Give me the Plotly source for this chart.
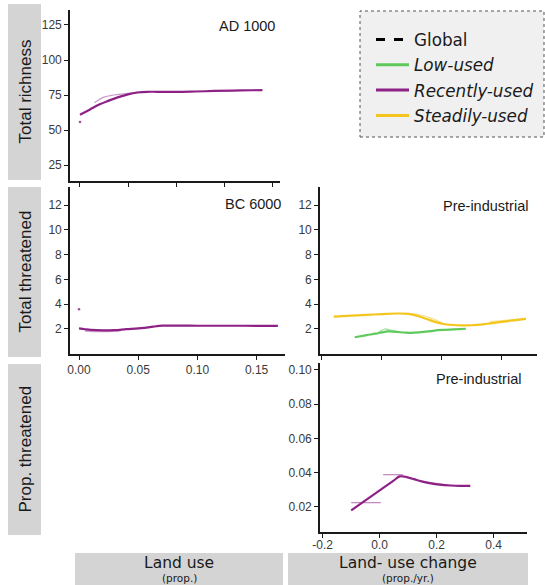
import plotly.graph_objects as go

W, H = 545, 585

# ---------------- data ----------------
# AD 1000 : total richness vs land use (Recently-used)
ad1000_x = [0.0, 0.01, 0.02, 0.03, 0.04, 0.05, 0.06, 0.07, 0.08, 0.10, 0.12, 0.14, 0.16, 0.18, 0.19]
ad1000_y = [60.9, 64.5, 68.2, 71.0, 73.5, 75.5, 76.8, 77.3, 77.3, 77.2, 77.5, 77.9, 78.2, 78.4, 78.5]
ad1000_thin_x = [0.015, 0.025, 0.035, 0.048, 0.06]
ad1000_thin_y = [69.5, 73.5, 75.0, 76.0, 77.0]
ad1000_pt_x = [0.0]
ad1000_pt_y = [55.7]

# BC 6000 : total threatened vs land use (Recently-used)
bc6000_x = [0.0, 0.005, 0.01, 0.02, 0.03, 0.04, 0.05, 0.06, 0.065, 0.07, 0.08, 0.10, 0.12, 0.14, 0.168]
bc6000_y = [2.05, 1.98, 1.92, 1.88, 1.90, 1.98, 2.05, 2.15, 2.22, 2.27, 2.27, 2.26, 2.26, 2.26, 2.25]
bc6000_thin_x = [0.005, 0.015, 0.025, 0.035]
bc6000_thin_y = [1.88, 1.83, 1.84, 1.89]
bc6000_pt_x = [0.0]
bc6000_pt_y = [3.6]

# Pre-industrial : total threatened vs land-use change
steady_x = [-0.16, -0.1, -0.05, 0.0, 0.05, 0.09, 0.12, 0.15, 0.18, 0.21, 0.25, 0.3, 0.35, 0.4, 0.44, 0.48]
steady_y = [3.0, 3.08, 3.14, 3.2, 3.25, 3.22, 3.05, 2.8, 2.55, 2.38, 2.3, 2.3, 2.42, 2.58, 2.7, 2.82]
steady_thin_x = [0.10, 0.15, 0.20]
steady_thin_y = [3.25, 3.0, 2.5]
steady_thin2_x = [0.36, 0.42, 0.48]
steady_thin2_y = [2.6, 2.72, 2.88]

low_x = [-0.09, -0.05, -0.02, 0.0, 0.02, 0.05, 0.08, 0.11, 0.14, 0.17, 0.2, 0.24, 0.28]
low_y = [1.33, 1.5, 1.62, 1.72, 1.8, 1.76, 1.70, 1.70, 1.76, 1.85, 1.92, 1.97, 2.02]
low_thin_x = [-0.01, 0.01, 0.03, 0.05]
low_thin_y = [1.75, 2.0, 1.9, 1.8]

# Pre-industrial : proportion threatened vs land-use change (Recently-used)
prop_x = [-0.1, -0.07, -0.04, -0.01, 0.02, 0.05, 0.07, 0.09, 0.12, 0.15, 0.18, 0.21, 0.25, 0.28, 0.318]
prop_y = [0.018, 0.0215, 0.025, 0.0285, 0.032, 0.0355, 0.0378, 0.0376, 0.0362, 0.0348, 0.0337, 0.033, 0.0325, 0.0323, 0.0323]
prop_thin1_x = [-0.1, 0.004]
prop_thin1_y = [0.0225, 0.0225]
prop_thin2_x = [0.012, 0.082]
prop_thin2_y = [0.0388, 0.0388]
prop_thin3_x = [0.09, 0.14, 0.2, 0.24]
prop_thin3_y = [0.0372, 0.0352, 0.0338, 0.0328]

# ---------------- styles ----------------
GREEN = "#5fc95c"
PURPLE = "#8e2186"
YELLOW = "#f4c51c"
TICKFONT = dict(family="Liberation Sans, Arial", size=12, color="#3a3a3a")


def px_x(p):
    return p / W


def px_y(p):
    return 1 - p / H


fig = go.Figure()


def add_line(x, y, color, xa, ya, width=2.2, opacity=1.0):
    fig.add_trace(go.Scatter(x=x, y=y, mode="lines", line=dict(color=color, width=width, shape="spline"),
                             opacity=opacity, xaxis=xa, yaxis=ya, showlegend=False, hoverinfo="skip"))


def add_pt(x, y, color, xa, ya):
    fig.add_trace(go.Scatter(x=x, y=y, mode="markers", marker=dict(color=color, size=2.5),
                             opacity=0.8, xaxis=xa, yaxis=ya, showlegend=False, hoverinfo="skip"))


# panel 1
add_line(ad1000_thin_x, ad1000_thin_y, PURPLE, "x", "y", 1.2, 0.45)
add_line(ad1000_x, ad1000_y, PURPLE, "x", "y")
add_pt(ad1000_pt_x, ad1000_pt_y, PURPLE, "x", "y")
# panel 2
add_line(bc6000_thin_x, bc6000_thin_y, PURPLE, "x2", "y2", 2.5, 0.4)
add_line(bc6000_x, bc6000_y, PURPLE, "x2", "y2")
add_pt(bc6000_pt_x, bc6000_pt_y, PURPLE, "x2", "y2")
# panel 3
add_line(steady_thin_x, steady_thin_y, YELLOW, "x3", "y3", 1.2, 0.5)
add_line(steady_thin2_x, steady_thin2_y, YELLOW, "x3", "y3", 1.2, 0.5)
add_line(steady_x, steady_y, YELLOW, "x3", "y3")
add_line(low_thin_x, low_thin_y, GREEN, "x3", "y3", 1.2, 0.6)
add_line(low_x, low_y, GREEN, "x3", "y3")
# panel 4
add_line(prop_thin1_x, prop_thin1_y, PURPLE, "x4", "y4", 1.2, 0.55)
add_line(prop_thin2_x, prop_thin2_y, PURPLE, "x4", "y4", 1.2, 0.55)
add_line(prop_thin3_x, prop_thin3_y, PURPLE, "x4", "y4", 1.2, 0.45)
add_line(prop_x, prop_y, PURPLE, "x4", "y4")

# legend entries
legend_names = ["Global", "<i>Low-used</i>", "<i>Recently-used</i>", "<i>Steadily-used</i>"]
legend_colors = ["#000000", GREEN, PURPLE, YELLOW]
legend_dash = ["dash", "solid", "solid", "solid"]
for i, (n, c, d) in enumerate(zip(legend_names, legend_colors, legend_dash)):
    fig.add_trace(go.Scatter(x=[None], y=[None], mode="lines", name=n, legendgroup=f"g{i}",
                             line=dict(color=c, width=3, dash=d), xaxis="x", yaxis="y"))


def axis(dom, rng, tickvals, ticktext=None, showlabels=True, anchor=None, standoff=0):
    d = dict(domain=dom, range=rng, tickvals=tickvals, showline=True, linecolor="#1a1a1a", linewidth=1.6,
             ticks="outside", ticklen=4, tickwidth=1.3, tickcolor="#1a1a1a", showgrid=False, zeroline=False,
             tickfont=TICKFONT, showticklabels=showlabels, fixedrange=True, automargin=False,
             ticklabelstandoff=standoff)
    if ticktext is not None:
        d["ticktext"] = ticktext
    if anchor:
        d["anchor"] = anchor
    return d


layout = dict(
    width=W, height=H, margin=dict(l=0, r=0, t=0, b=0, pad=0, autoexpand=False), autosize=False,
    paper_bgcolor="white", plot_bgcolor="white", showlegend=True,
    xaxis=axis([px_x(70), px_x(280)], [-0.0104, 0.2083], [0, 0.05, 0.10, 0.15, 0.20], showlabels=False, anchor="y"),
    yaxis=axis([px_y(181), px_y(10)], [13.6, 135.7], [25, 50, 75, 100, 125], anchor="x"),
    xaxis2=axis([px_x(70), px_x(285)], [-0.0076, 0.174], [0, 0.05, 0.10, 0.15],
                ["0.00", "0.05", "0.10", "0.15"], anchor="y2"),
    yaxis2=axis([px_y(354), px_y(187)], [-0.02, 13.46], [2, 4, 6, 8, 10, 12], anchor="x2"),
    xaxis3=axis([px_x(320), px_x(537)], [-0.2057, 0.517], [-0.2, 0, 0.2, 0.4], showlabels=False, anchor="y3"),
    yaxis3=axis([px_y(354), px_y(187)], [-0.02, 13.46], [2, 4, 6, 8, 10, 12], anchor="x3"),
    xaxis4=axis([px_x(320), px_x(527)], [-0.2095, 0.517], [-0.2, 0, 0.2, 0.4], ["-0.2", "0.0", "0.2", "0.4"],
                anchor="y4", standoff=-3),
    yaxis4=axis([px_y(532), px_y(363)], [0.0054, 0.1039], [0.02, 0.04, 0.06, 0.08, 0.10],
                ["0.02", "0.04", "0.06", "0.08", "0.10"], anchor="x4"),
    legend=dict(x=px_x(371), y=px_y(22), xanchor="left", yanchor="top", bgcolor="rgba(0,0,0,0)",
                font=dict(family="DejaVu Sans", size=16.8, color="#1a1a1a"), itemwidth=33,
                tracegroupgap=0.5),
)
fig.update_layout(**layout)

STRIP = "#d4d4d4"
shapes = [
    # legend box
    dict(type="rect", xref="paper", yref="paper", x0=px_x(360), x1=px_x(544), y0=px_y(137), y1=px_y(11),
         fillcolor="#f0f0f0", line=dict(color="#555555", width=1, dash="dot"), layer="below"),
    # row strips
    dict(type="rect", xref="paper", yref="paper", x0=px_x(8), x1=px_x(41), y0=px_y(180), y1=px_y(4),
         fillcolor=STRIP, line=dict(width=0), layer="below"),
    dict(type="rect", xref="paper", yref="paper", x0=px_x(8), x1=px_x(41), y0=px_y(357), y1=px_y(187),
         fillcolor=STRIP, line=dict(width=0), layer="below"),
    dict(type="rect", xref="paper", yref="paper", x0=px_x(8), x1=px_x(41), y0=px_y(535), y1=px_y(364),
         fillcolor=STRIP, line=dict(width=0), layer="below"),
    # column strips
    dict(type="rect", xref="paper", yref="paper", x0=px_x(75), x1=px_x(283), y0=0, y1=px_y(553),
         fillcolor=STRIP, line=dict(width=0), layer="below"),
    dict(type="rect", xref="paper", yref="paper", x0=px_x(288), x1=px_x(528), y0=0, y1=px_y(553),
         fillcolor=STRIP, line=dict(width=0), layer="below"),
]
fig.update_layout(shapes=shapes)

STRIPFONT = dict(family="Liberation Sans, Arial", size=17, color="#1a1a1a")
PANELFONT = dict(family="Liberation Sans, Arial", size=14.5, color="#1a1a1a")
COLFONT = dict(family="DejaVu Sans", size=15.5, color="#1a1a1a")
SUBFONT = dict(family="DejaVu Sans", size=10.5, color="#1a1a1a")
ann = [
    dict(text="Total richness", x=px_x(24.5), y=px_y(92), textangle=-90, font=STRIPFONT),
    dict(text="Total threatened", x=px_x(24.5), y=px_y(272), textangle=-90, font=STRIPFONT),
    dict(text="Prop. threatened", x=px_x(24.5), y=px_y(449), textangle=-90, font=STRIPFONT),
    dict(text="Land use", x=px_x(179), y=px_y(562.5), font=COLFONT),
    dict(text="(prop.)", x=px_x(179), y=0, yanchor="bottom", font=SUBFONT),
    dict(text="Land- use change", x=px_x(408), y=px_y(562.5), font=COLFONT),
    dict(text="(prop./yr.)", x=px_x(408), y=0, yanchor="bottom", font=SUBFONT),
    dict(text="AD 1000", x=px_x(276), y=px_y(26), xanchor="right", font=PANELFONT),
    dict(text="BC 6000", x=px_x(282), y=px_y(204), xanchor="right", font=PANELFONT),
    dict(text="Pre-industrial", x=px_x(529), y=px_y(206), xanchor="right", font=PANELFONT),
    dict(text="Pre-industrial", x=px_x(522), y=px_y(379), xanchor="right", font=PANELFONT),
]
for a in ann:
    a.update(xref="paper", yref="paper", showarrow=False, borderpad=0)
    a.setdefault("xanchor", "center")
    a.setdefault("yanchor", "middle")
fig.update_layout(annotations=ann)

fig.write_html("out.html", config={"responsive": False, "displayModeBar": False},
               post_script="document.body.style.margin='0';document.body.style.padding='0';"
                           "document.body.style.overflow='hidden';")
